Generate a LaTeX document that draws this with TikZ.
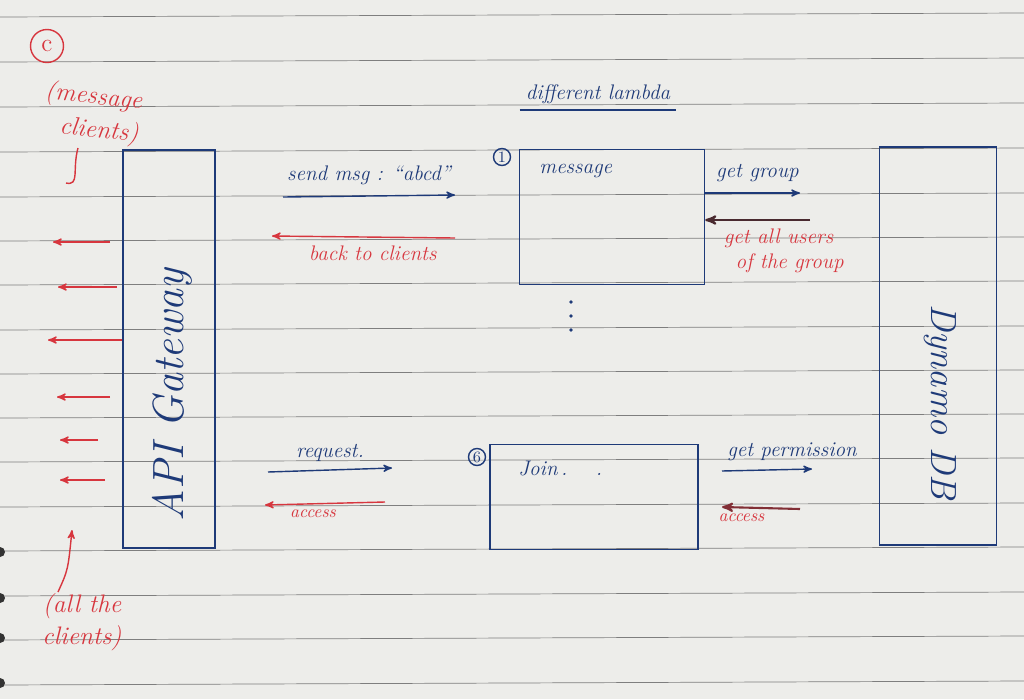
\documentclass[tikz,border=0pt]{standalone}
\usepackage{amssymb}
\usepackage{xcolor}
\usetikzlibrary{arrows,calc}
\usetikzlibrary{positioning}

\definecolor{ink}{HTML}{1E3A78}
\definecolor{redink}{HTML}{D7363E}
\definecolor{darkink}{HTML}{4A2A30}
\definecolor{paper}{HTML}{EDEDEA}
\definecolor{rule}{HTML}{7E7E7E}

\begin{document}
\begin{tikzpicture}[x=0.2mm,y=-0.2mm,>=stealth',semithick,node distance=4mm,font=\itshape\large]
  \tikzstyle{box}=[draw=ink, thick, inner sep=0pt]
  \tikzstyle{bluetext}=[text=ink]
  \tikzstyle{redtext}=[text=redink]
  \tikzstyle{stepno}=[draw=ink, circle, thick, text=ink, inner sep=0pt, minimum size=3.4mm, font=\small]
  \tikzstyle{bluearrow}=[->, draw=ink, thick]
  \tikzstyle{redarrow}=[->, draw=redink, thick]
  \tikzstyle{backarrow}=[->, draw=darkink, very thick]

  % paper and rules
  \useasboundingbox (0,0) rectangle (1024,699);
  \fill[paper] (0,0) rectangle (1024,699);
  \foreach \y in {17,62,107,152,197,241,285,330,374,418,462,507,551,596,640,685}
    \draw[rule, thin] (0,\y) -- (1024,\y-4);
  \foreach \y in {552,598,638,683}
    \fill[black!80] (0,\y) circle (5);

  % the three blocks
  \node[box, minimum width=92*0.2mm, minimum height=398*0.2mm] (api) at (169,349) {};
  \node[box, minimum width=117*0.2mm, minimum height=398*0.2mm] (dynamo) at (938,346) {};
  \node[box, minimum width=185*0.2mm, minimum height=135*0.2mm] (msg) at (612,217) {};
  \node[box, minimum width=208*0.2mm, minimum height=105*0.2mm] (join) at (594,497) {};

  \node[bluetext, rotate=90, font=\itshape\Huge] (apilabel) at (172,395) {API Gateway};
  \node[bluetext, rotate=-90, font=\itshape\huge] (dblabel) at (940,402) {Dynamo DB};
  \node[bluetext, anchor=north west] (msglabel) at (533,158) {message};
  \node[bluetext, anchor=north west] (joinlabel) at (512,455) {Join\,.\quad\ .};
  \node[stepno] (one) at (502,157) {1};
  \node[stepno] (six) at (477,457) {6};
  % more lambdas in between
  \coordinate (more) at (571,316);
  \foreach \d in {-14,0,14}
    \fill[ink] ($(more)+(0,\d)$) circle (1.8);

  % title
  \node[bluetext] (title) at (598,94) {different lambda};
  \draw[ink, thick] (title.south west) -- (title.south east);

  % top left marks
  \node[draw=redink, circle, thick, text=redink, inner sep=0pt, minimum size=6.6mm, font=\Large] (c) at (47,46) {c};
  \node[redtext, rotate=-6, align=center, font=\itshape\Large] (toclients) at (92,114) {(message\\[1pt] \ \ clients)};
  \coordinate (toend) at (66,183);
  \draw[redink, thick] (78,148) .. controls (72,170) and (80,186) .. (toend);

  \node[redtext, align=center, font=\itshape\Large] (allclients) at (82,622) {(all the\\ clients)};
  \coordinate (fromclients) at (72,530);
  \draw[redarrow] (58,592) .. controls (68,570) .. (fromclients);

  % arrows out to the clients
  \foreach \y/\a/\b [count=\i] in {242/110/53, 287/117/58, 340/122/48, 397/110/57, 440/98/60, 480/105/60} {
    \coordinate (cl\i) at (\b,\y);
    \coordinate (gw\i) at (\a,\y);
    \draw[redarrow] (gw\i) -- (cl\i);
  }

  % api gateway <-> message lambda
  \coordinate (sendA) at (283,197);
  \coordinate (sendB) at (455,195);
  \draw[bluearrow] (sendA) -- (sendB);
  \node[bluetext, above=1mm of $(sendA)!0.5!(sendB)$] (sendlabel) {send msg : ``abcd''};
  \coordinate (backA) at (455,238);
  \coordinate (backB) at (272,236);
  \draw[redarrow] (backA) -- (backB);
  \node[redtext, below=0.5mm of $(backA)!0.45!(backB)$] (backlabel) {back to clients};

  % message lambda <-> dynamo
  \coordinate (grpB) at (800,193);
  \draw[bluearrow] (msg.east |- grpB) -- (grpB);
  \node[bluetext, above=1mm of $(msg.east |- grpB)!0.55!(grpB)$] (grplabel) {get group};
  \coordinate (usrA) at (810,220);
  \draw[backarrow] (usrA) -- (usrA -| msg.east);
  \node[redtext, align=center, below=0.5mm of $(usrA)!0.3!(usrA -| msg.east)$] (usrlabel) {get all users\\ \ \ \ of the group};

  % api gateway <-> join lambda
  \coordinate (reqA) at (268,472);
  \coordinate (reqB) at (392,468);
  \draw[bluearrow] (reqA) -- (reqB);
  \node[bluetext, above=0.5mm of $(reqA)!0.5!(reqB)$] (reqlabel) {request.};
  \coordinate (accA) at (385,502);
  \coordinate (accB) at (265,505);
  \draw[redarrow] (accA) -- (accB);
  \node[redtext, font=\itshape\normalsize, below=0mm of $(accA)!0.6!(accB)$] (acclabel) {access};

  % join lambda <-> dynamo
  \coordinate (permA) at (722,471);
  \coordinate (permB) at (812,469);
  \draw[bluearrow] (permA) -- (permB);
  \node[bluetext, above=0.5mm of $(permA)!0.5!(permB)$, xshift=5mm] (permlabel) {get permission};
  \coordinate (acc2A) at (800,509);
  \coordinate (acc2B) at (722,507);
  \draw[backarrow, draw=darkink!60!redink] (acc2A) -- (acc2B);
  \node[redtext, font=\itshape\normalsize, below=0mm of $(acc2A)!0.75!(acc2B)$] (acc2label) {access};
\end{tikzpicture}
\end{document}
